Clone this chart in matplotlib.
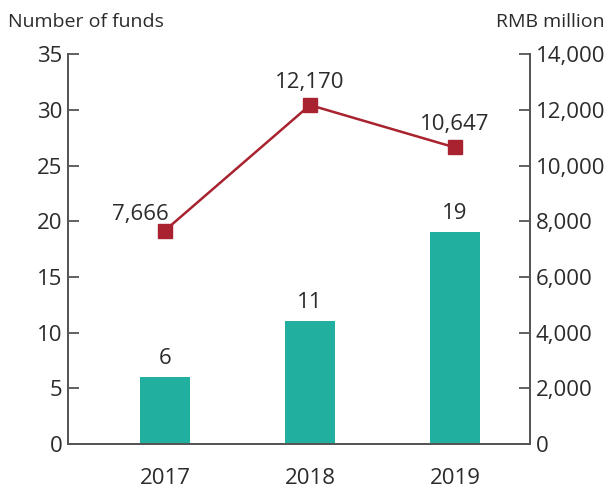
import numpy as np
import matplotlib.pyplot as plt

plt.rcParams['font.family'] = ['Open Sans', 'DejaVu Sans']

years = ['2017', '2018', '2019']
funds = [6, 11, 19]
amount = [7666, 12170, 10647]
amount_labels = ['7,666', '12,170', '10,647']

teal = '#21b0a0'
red = '#a8232f'
txt = '#2b2b2b'
spine = '#555555'

fig = plt.figure(figsize=(6.12, 4.92), dpi=100)
ax = fig.add_axes([0.111, 0.0976, 0.755, 0.7924])
ax2 = ax.twinx()

x = np.arange(len(years))
ax.bar(x, funds, width=0.35, color=teal, zorder=2)
for xi, v in zip(x, funds):
    ax.annotate(str(v), (xi, v), xytext=(0, 6), textcoords='offset points',
                ha='center', va='bottom', fontsize=16, color=txt)

ax2.plot(x, amount, color=red, lw=1.8, marker='s', ms=9.5, zorder=3)
offsets = [(-18, 4), (0, 9), (0, 9)]
for xi, v, lab, off in zip(x, amount, amount_labels, offsets):
    ax2.annotate(lab, (xi, v), xytext=off, textcoords='offset points',
                 ha='center', va='bottom', fontsize=16, color=txt)

ax.set_xlim(-0.669, 2.517)
ax.set_ylim(0, 35)
ax2.set_ylim(0, 14000)
ax.set_xticks(x)
ax.set_xticklabels(years)
ax.set_yticks(range(0, 36, 5))
ax2.set_yticks(range(0, 14001, 2000))
ax2.set_yticklabels(['{:,}'.format(v) for v in range(0, 14001, 2000)])

for a in (ax, ax2):
    a.spines['top'].set_visible(False)
    for s in ('left', 'right', 'bottom'):
        a.spines[s].set_color(spine)
        a.spines[s].set_linewidth(1.3)
    a.tick_params(axis='y', direction='in', length=8, width=1.3, color=spine,
                  labelsize=16, labelcolor=txt, pad=4)
ax.tick_params(axis='x', length=0, labelsize=16, labelcolor=txt, pad=17)

fig.text(0.013, 0.956, 'Number of funds', fontsize=14, color=txt, ha='left', va='center')
fig.text(0.988, 0.956, 'RMB million', fontsize=14, color=txt, ha='right', va='center')

fig.savefig('out.png', dpi=100)
